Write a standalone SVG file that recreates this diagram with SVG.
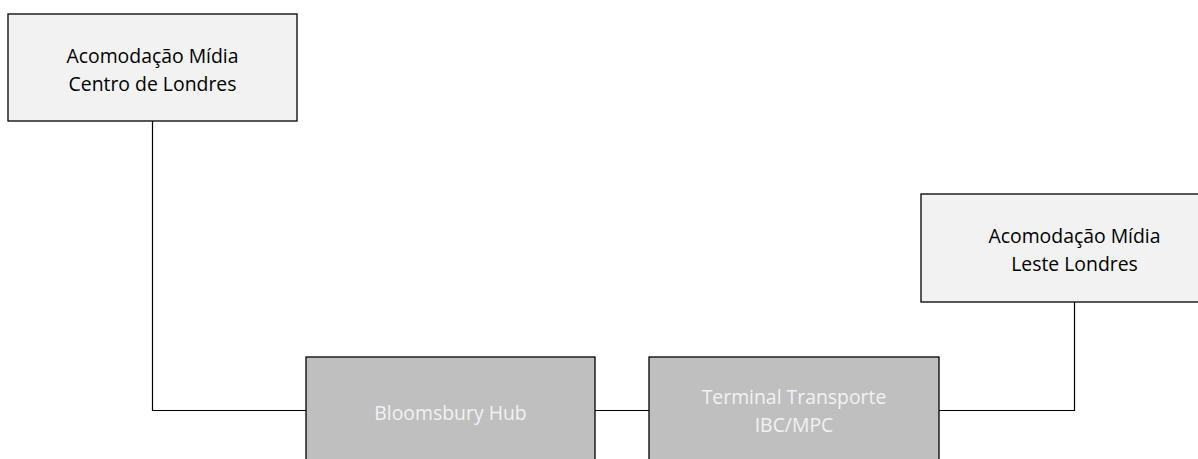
<svg xmlns="http://www.w3.org/2000/svg" width="1198" height="459" viewBox="0 0 1198 459">
<style>
.light{fill:#f2f2f2;stroke:#000;stroke-width:1.3}
.dark{fill:#bfbfbf;stroke:#000;stroke-width:1.3}
.t{font-family:"Open Sans","Liberation Sans",sans-serif;font-size:19.4px;text-anchor:middle}
.tl{fill:#000}
.td{fill:#f2f2f2}
.c{fill:none;stroke:#000;stroke-width:1.2}
</style>
<rect width="1198" height="459" fill="#fff"/>
<g id="connectors">
<polyline class="c" points="152.5,121 152.5,410.5 306,410.5"/>
<line class="c" x1="595" y1="410.5" x2="649" y2="410.5"/>
<polyline class="c" points="939,410.5 1074.5,410.5 1074.5,302"/>
</g>
<g id="node-centro">
<rect class="light" x="8" y="14" width="289" height="107"/>
<text class="t tl" x="152.5" y="63">Acomodação Mídia</text>
<text class="t tl" x="152.5" y="91">Centro de Londres</text>
</g>
<g id="node-leste">
<rect class="light" x="921" y="194" width="289" height="108"/>
<text class="t tl" x="1074.5" y="243">Acomodação Mídia</text>
<text class="t tl" x="1074.5" y="271">Leste Londres</text>
</g>
<g id="node-bloomsbury">
<rect class="dark" x="306" y="357" width="289" height="108"/>
<text class="t td" x="450.5" y="420">Bloomsbury Hub</text>
</g>
<g id="node-terminal">
<rect class="dark" x="649" y="357" width="290" height="108"/>
<text class="t td" x="794" y="404">Terminal Transporte</text>
<text class="t td" x="794" y="432">IBC/MPC</text>
</g>
</svg>
